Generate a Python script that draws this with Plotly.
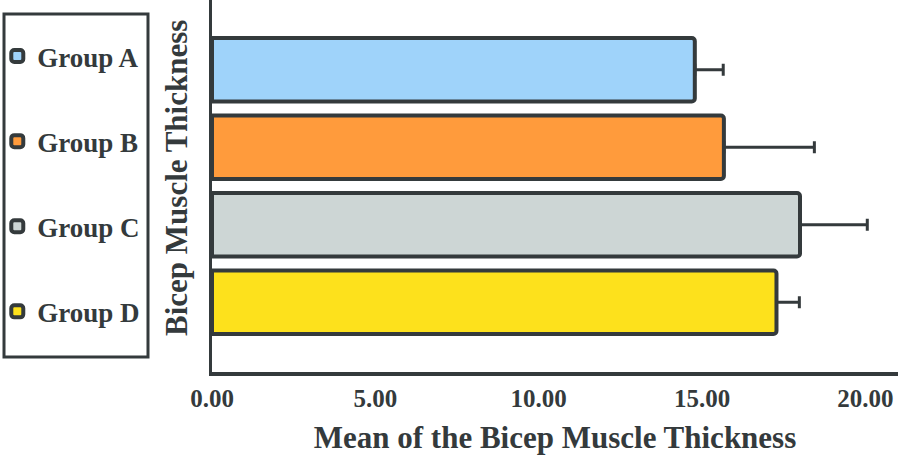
import plotly.graph_objects as go

groups = ["Group A", "Group B", "Group C", "Group D"]
means = [14.78, 15.67, 18.00, 17.28]
errors = [0.87, 2.77, 2.06, 0.70]
colors = ["#9fd3fa", "#ff9b3c", "#cdd6d5", "#fde11c"]

dark = "#343a3c"
font_family = "Liberation Serif, Times New Roman, serif"

fig = go.Figure()
for g, m, e, c in zip(groups, means, errors, colors):
    fig.add_trace(go.Bar(
        y=[g], x=[m], orientation="h", name=g, legendgroup=g,
        width=0.82,
        marker=dict(color=c, line=dict(color=dark, width=4), cornerradius=3),
        error_x=dict(type="data", symmetric=False, array=[e], arrayminus=[0],
                     color=dark, thickness=3, width=6),
    ))

# legend frame (plot area spans x 212..898 px, y 0..372 px)
fig.add_shape(type="rect", xref="paper", yref="paper",
              x0=-0.3032, x1=-0.0933, y0=0.0403, y1=0.9624,
              line=dict(color=dark, width=3), fillcolor="rgba(0,0,0,0)")

fig.add_annotation(text="<b>Bicep Muscle Thickness</b>", textangle=-90,
                   xref="paper", yref="paper", x=-0.0525, y=0.5215,
                   xanchor="center", yanchor="middle",
                   showarrow=False, font=dict(size=31, color=dark))

fig.update_layout(
    width=902, height=457,
    margin=dict(l=212, r=4, t=0, b=85, autoexpand=False),
    barmode="overlay",
    plot_bgcolor="white", paper_bgcolor="white",
    font=dict(family=font_family, color=dark),
    legend=dict(
        x=-0.313, xanchor="left", y=0.914, yanchor="top",
        borderwidth=0, bgcolor="rgba(0,0,0,0)",
        font=dict(size=27, family=font_family, color=dark, weight="bold"),
        tracegroupgap=47,
    ),
    xaxis=dict(
        range=[0, 21], tickvals=[0, 5, 10, 15, 20], tickformat=".2f",
        showline=True, linecolor=dark, linewidth=4,
        showgrid=False, zeroline=False,
        ticks="outside", ticklen=1, tickcolor="rgba(0,0,0,0)",
        tickfont=dict(size=25, weight="bold"),
        title=dict(text="Mean of the Bicep Muscle Thickness",
                   font=dict(size=31, weight="bold"), standoff=16),
    ),
    yaxis=dict(
        categoryorder="array", categoryarray=groups,
        range=[3.9, -0.9],
        showline=True, linecolor=dark, linewidth=3,
        showgrid=False, showticklabels=False, ticks="",
    ),
)

fig.write_html("out.html", config={"displayModeBar": False},
               post_script="document.body.style.margin='0';")
